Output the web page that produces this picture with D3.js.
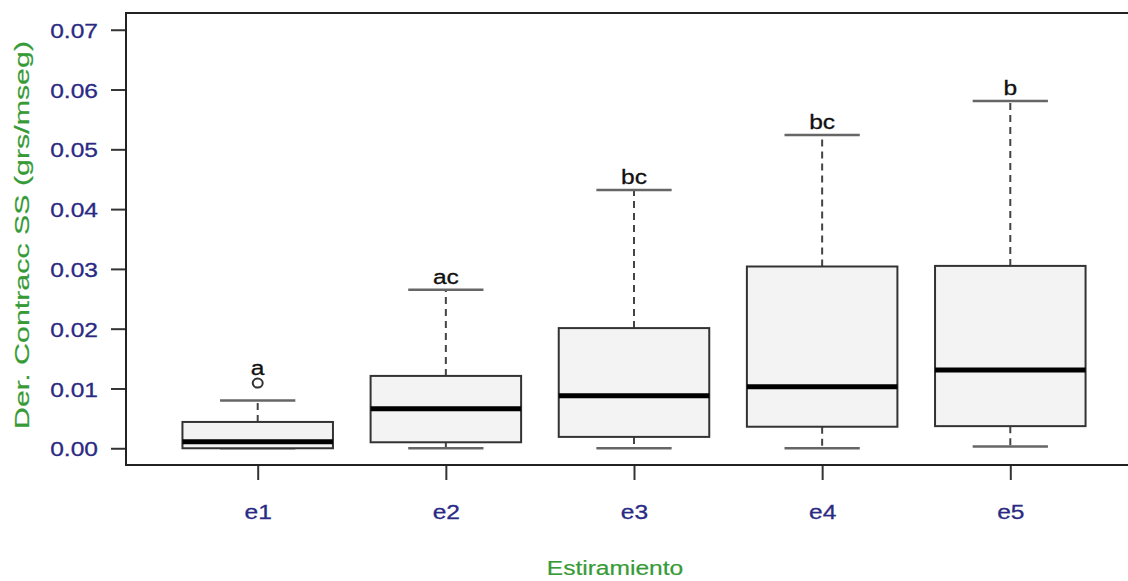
<!DOCTYPE html>
<html>
<head>
<meta charset="utf-8">
<script src="https://cdn.jsdelivr.net/npm/d3@7"></script>
<style>
  html, body { margin: 0; padding: 0; background: #fff; }
  text { font-family: "Liberation Sans", Arial, sans-serif; }
</style>
</head>
<body>
<div class="chart"></div>
<script>
var width = 1128
var height = 581

// data
var categories = ["e1", "e2", "e3", "e4", "e5"];
var whiskerLow = [0.0000, 0.0000, 0.0000, 0.0000, 0.0003];
var q1 = [0.0000, 0.0010, 0.0019, 0.0036, 0.0037];
var median = [0.0011, 0.0066, 0.0088, 0.0103, 0.0131];
var q3 = [0.0044, 0.0121, 0.0201, 0.0304, 0.0305];
var whiskerHigh = [0.0080, 0.0265, 0.0432, 0.0524, 0.0581];
var outliers = [[0.0109], [], [], [], []];
var groupLetters = ["a", "ac", "bc", "bc", "b"];
var yTicks = [0, 0.01, 0.02, 0.03, 0.04, 0.05, 0.06, 0.07];

var plot = { left: 126, top: 13, right: 1142, bottom: 465 };
var stretch = 1.17; // picture is wider than the R device it came from
var tickColor = "#2a2a84";
var labColor = "#369a36";

var x = d3.scalePoint()
    .domain(categories)
    .range([plot.left, plot.right])
    .padding(0.7);

var y = d3.scaleLinear()
    .domain([-0.0028, 0.0728])
    .range([plot.bottom, plot.top]);

var boxW = x.step() * 0.8;

var svg = d3.select(".chart").append("svg")
    .attr("width", width)
    .attr("height", height);

// y axis
var yAxis = svg.append("g")
    .attr("transform", "translate(" + plot.left + ",0)")
    .call(d3.axisLeft(y).tickValues(yTicks).tickSize(15).tickPadding(13)
      .tickFormat(d3.format(".2f")));
yAxis.select(".domain").remove();
yAxis.selectAll(".tick line").attr("stroke", "#333").attr("stroke-width", 2);
yAxis.selectAll(".tick text")
    .attr("fill", tickColor)
    .attr("stroke", tickColor).attr("stroke-width", 0.3)
    .attr("font-size", 21)
    .attr("dy", "0.36em")
    .attr("transform", "scale(" + stretch + ",1)")
    .attr("x", -28 / stretch);

// x axis
var xAxis = svg.append("g")
    .attr("transform", "translate(0," + plot.bottom + ")")
    .call(d3.axisBottom(x).tickSize(15).tickPadding(0));
xAxis.select(".domain").remove();
xAxis.selectAll(".tick line").attr("stroke", "#333").attr("stroke-width", 2);
xAxis.selectAll(".tick text").remove();
xAxis.selectAll(".tick").append("text")
    .attr("transform", "translate(0,54) scale(" + stretch + ",1)")
    .attr("text-anchor", "middle")
    .attr("fill", tickColor)
    .attr("stroke", tickColor).attr("stroke-width", 0.3)
    .attr("font-size", 21)
    .text(function(d) { return d; });

// boxes
var box = svg.selectAll(".box")
    .data(categories)
    .enter()
    .append("g")
    .attr("class", "box");

// whiskers
box.append("line")
    .attr("x1", function(d) { return x(d); })
    .attr("x2", function(d) { return x(d); })
    .attr("y1", function(d, i) { return y(q3[i]); })
    .attr("y2", function(d, i) { return y(whiskerHigh[i]); })
    .attr("stroke", "#444").attr("stroke-width", 2)
    .attr("stroke-dasharray", "7,5");
box.append("line")
    .attr("x1", function(d) { return x(d); })
    .attr("x2", function(d) { return x(d); })
    .attr("y1", function(d, i) { return y(q1[i]); })
    .attr("y2", function(d, i) { return y(whiskerLow[i]); })
    .attr("stroke", "#444").attr("stroke-width", 2)
    .attr("stroke-dasharray", "7,5");

// staples
[whiskerHigh, whiskerLow].forEach(function(arr) {
  box.append("line")
      .attr("x1", function(d) { return x(d) - boxW / 4; })
      .attr("x2", function(d) { return x(d) + boxW / 4; })
      .attr("y1", function(d, i) { return y(arr[i]); })
      .attr("y2", function(d, i) { return y(arr[i]); })
      .attr("stroke", "#666").attr("stroke-width", 2.5);
});

box.append("rect")
    .attr("x", function(d) { return x(d) - boxW / 2; })
    .attr("width", boxW)
    .attr("y", function(d, i) { return y(q3[i]); })
    .attr("height", function(d, i) { return y(q1[i]) - y(q3[i]); })
    .attr("fill", "#f3f3f3")
    .attr("stroke", "#333")
    .attr("stroke-width", 2);

box.append("line")
    .attr("x1", function(d) { return x(d) - boxW / 2; })
    .attr("x2", function(d) { return x(d) + boxW / 2; })
    .attr("y1", function(d, i) { return y(median[i]); })
    .attr("y2", function(d, i) { return y(median[i]); })
    .attr("stroke", "#000").attr("stroke-width", 5);

// outliers
box.selectAll(".out")
    .data(function(d, i) { return outliers[i].map(function(v) { return { c: d, v: v }; }); })
    .enter()
    .append("ellipse")
    .attr("cx", function(o) { return x(o.c); })
    .attr("cy", function(o) { return y(o.v); })
    .attr("rx", 5).attr("ry", 4.5)
    .attr("fill", "none")
    .attr("stroke", "#333")
    .attr("stroke-width", 2);

// significance letters
box.append("text")
    .attr("transform", function(d, i) {
      var top = d3.max([whiskerHigh[i]].concat(outliers[i]));
      var off = outliers[i].length ? 8 : 6;
      return "translate(" + x(d) + "," + (y(top) - off) + ") scale(" + stretch + ",1)";
    })
    .attr("text-anchor", "middle")
    .attr("font-size", 21)
    .attr("fill", "#111")
    .attr("stroke", "#111").attr("stroke-width", 0.3)
    .text(function(d, i) { return groupLetters[i]; });

// plot frame
svg.append("rect")
    .attr("x", plot.left)
    .attr("y", plot.top)
    .attr("width", plot.right - plot.left)
    .attr("height", plot.bottom - plot.top)
    .attr("fill", "none")
    .attr("stroke", "#222")
    .attr("stroke-width", 2);

// axis titles
svg.append("text")
    .attr("transform", "translate(" + ((plot.left + 1010) / 2 + 47) + ",575) scale(" + stretch + ",1)")
    .attr("text-anchor", "middle")
    .attr("font-size", 21)
    .attr("fill", labColor)
    .attr("stroke", labColor).attr("stroke-width", 0.2)
    .text("Estiramiento");

svg.append("text")
    .attr("transform", "translate(29," + ((plot.top + plot.bottom) / 2 - 4) + ") rotate(-90)")
    .attr("text-anchor", "middle")
    .attr("font-size", 21)
    .attr("textLength", 388)
    .attr("lengthAdjust", "spacingAndGlyphs")
    .attr("fill", labColor)
    .attr("stroke", labColor).attr("stroke-width", 0.2)
    .text("Der. Contracc SS (grs/mseg)");
</script>
</body>
</html>
